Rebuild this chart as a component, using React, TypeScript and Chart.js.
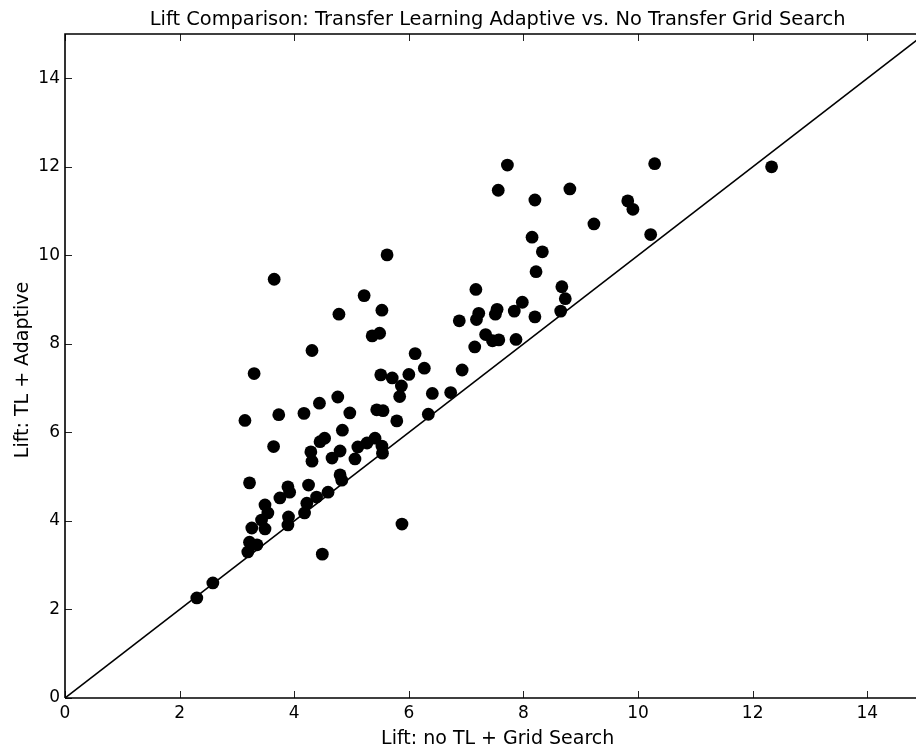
import React, { useEffect, useRef } from "react";
import { Chart, registerables } from "chart.js";

Chart.register(...registerables);

const titleText = "Lift Comparison: Transfer Learning Adaptive vs. No Transfer Grid Search";
const xAxisLabel = "Lift: no TL + Grid Search";
const yAxisLabel = "Lift: TL + Adaptive";

const xTickValues = [0, 2, 4, 6, 8, 10, 12, 14];
const yTickValues = [0, 2, 4, 6, 8, 10, 12, 14];
const xRange = [0, 14.85];
const yRange = [0, 15];
const diagonalX = [0, 15];
const diagonalY = [0, 15];

// Lift without transfer learning (grid search)
const liftNoTL = [
  4.29, 4.31, 4.8, 4.66, 5.11, 5.27, 5.41, 5.53, 5.54, 5.06,
  3.89, 3.92, 3.75, 4.25, 3.49, 3.54, 3.43, 3.49, 3.26, 3.9,
  3.89, 4.22, 4.18, 4.39, 4.59, 4.8, 4.83, 3.22, 3.35, 3.19,
  4.49, 5.88, 2.58, 2.3, 3.22,
  5.62, 3.65, 5.22, 4.78, 5.53, 5.36, 5.49, 4.31, 3.3, 6.11,
  6.27, 5.51, 5.71, 6.0, 5.87, 5.84, 6.41, 6.73, 4.76, 4.44,
  3.73, 4.17, 4.97, 3.14, 5.44, 5.55, 5.79, 6.34, 4.84, 4.45,
  4.53, 3.64,
  8.33, 8.22, 7.17, 6.88, 7.22, 7.18, 7.54, 7.51, 7.84, 7.98,
  8.2, 8.67, 8.73, 8.65, 7.34, 7.46, 7.57, 7.87, 7.15, 6.93,
  7.72, 10.29, 7.56, 8.81, 8.2, 9.82, 9.91, 9.23, 10.22, 8.15,
  12.33,
];

// Lift with transfer learning (adaptive)
const liftTLAdaptive = [
  5.56, 5.35, 5.58, 5.42, 5.67, 5.76, 5.87, 5.69, 5.53, 5.4,
  4.77, 4.65, 4.52, 4.81, 4.36, 4.18, 4.02, 3.82, 3.84, 4.09,
  3.91, 4.4, 4.18, 4.54, 4.65, 5.04, 4.92, 3.52, 3.46, 3.3,
  3.25, 3.93, 2.6, 2.26, 4.86,
  10.01, 9.46, 9.09, 8.67, 8.76, 8.18, 8.24, 7.85, 7.33, 7.78,
  7.45, 7.3, 7.23, 7.31, 7.05, 6.81, 6.88, 6.9, 6.8, 6.66,
  6.4, 6.43, 6.44, 6.27, 6.51, 6.49, 6.26, 6.41, 6.05, 5.79,
  5.87, 5.68,
  10.08, 9.63, 9.23, 8.52, 8.69, 8.55, 8.78, 8.67, 8.74, 8.94,
  8.61, 9.29, 9.02, 8.74, 8.21, 8.07, 8.09, 8.1, 7.93, 7.41,
  12.04, 12.07, 11.47, 11.5, 11.25, 11.23, 11.04, 10.71, 10.47, 10.41,
  12.0,
];

const FONT = "'DejaVu Sans', sans-serif";

const framePlugin = {
  id: "mplFrame",
  afterDraw(chart: any) {
    const { ctx, chartArea } = chart;
    const xs = chart.scales.x;
    const ys = chart.scales.y;
    const { left, right, top, bottom } = chartArea;
    ctx.save();
    // inside ticks
    ctx.strokeStyle = "#222";
    ctx.lineWidth = 1;
    ctx.beginPath();
    xTickValues.forEach((v) => {
      const px = Math.round(xs.getPixelForValue(v)) + 0.5;
      ctx.moveTo(px, bottom);
      ctx.lineTo(px, bottom - 7);
      ctx.moveTo(px, top);
      ctx.lineTo(px, top + 7);
    });
    yTickValues.forEach((v) => {
      const py = Math.round(ys.getPixelForValue(v)) + 0.5;
      ctx.moveTo(left, py);
      ctx.lineTo(left + 7, py);
    });
    ctx.stroke();
    // spines
    ctx.strokeStyle = "#000";
    ctx.lineWidth = 1.6;
    ctx.beginPath();
    ctx.moveTo(left, bottom);
    ctx.lineTo(left, top);
    ctx.lineTo(right + 2, top);
    ctx.moveTo(left, bottom);
    ctx.lineTo(right + 2, bottom);
    ctx.stroke();
    // texts
    const cx = xs.getPixelForValue(7.55);
    ctx.fillStyle = "#000";
    ctx.textAlign = "center";
    ctx.textBaseline = "alphabetic";
    ctx.font = `19.4px ${FONT}`;
    ctx.fillText(titleText, cx, 25);
    ctx.font = `19px ${FONT}`;
    ctx.fillText(xAxisLabel, cx, 744);
    ctx.save();
    ctx.translate(28, (top + bottom) / 2 + 4);
    ctx.rotate(-Math.PI / 2);
    ctx.fillText(yAxisLabel, 0, 0);
    ctx.restore();
    ctx.restore();
  },
};

export default function App() {
  const canvasRef = useRef<HTMLCanvasElement | null>(null);

  useEffect(() => {
    document.body.style.margin = "0";
    const canvas = canvasRef.current;
    if (!canvas) return;
    const points = liftNoTL.map((x, i) => ({ x, y: liftTLAdaptive[i] }));
    const diag = diagonalX.map((x, i) => ({ x, y: diagonalY[i] }));
    const chart = new Chart(canvas, {
      type: "scatter",
      data: {
        datasets: [
          {
            label: "runs",
            data: points,
            backgroundColor: "#000",
            borderWidth: 0,
            pointRadius: 6.4,
            pointHoverRadius: 6.4,
            order: 0,
          },
          {
            label: "y = x",
            data: diag,
            showLine: true,
            borderColor: "#000",
            borderWidth: 1.6,
            pointRadius: 0,
            pointHoverRadius: 0,
            order: 1,
          } as any,
        ],
      },
      options: {
        responsive: false,
        animation: false,
        devicePixelRatio: 1,
        events: [],
        layout: { autoPadding: false, padding: { top: 34, right: 0, left: 0, bottom: 0 } },
        plugins: {
          legend: { display: false },
          title: { display: false },
          tooltip: { enabled: false },
        },
        scales: {
          x: {
            type: "linear",
            min: xRange[0],
            max: xRange[1],
            grid: { display: false, drawTicks: false },
            border: { display: false },
            ticks: {
              stepSize: 2,
              includeBounds: false,
              padding: 5,
              color: "#000",
              font: { family: FONT, size: 17 },
              maxRotation: 0,
            },
            afterFit: (s: any) => {
              s.height = 50;
              s.paddingLeft = 0;
              s.paddingRight = 0;
            },
          },
          y: {
            type: "linear",
            min: yRange[0],
            max: yRange[1],
            grid: { display: false, drawTicks: false },
            border: { display: false },
            ticks: {
              stepSize: 2,
              includeBounds: false,
              padding: 5,
              color: "#000",
              font: { family: FONT, size: 17 },
            },
            afterFit: (s: any) => {
              s.width = 65;
              s.paddingTop = 0;
              s.paddingBottom = 0;
            },
          },
        },
      },
      plugins: [framePlugin],
    });
    return () => chart.destroy();
  }, []);

  return (
    <div style={{ position: "fixed", left: 0, top: 0, width: 916, height: 748, background: "#fff" }}>
      <canvas ref={canvasRef} width={916} height={748} />
    </div>
  );
}
